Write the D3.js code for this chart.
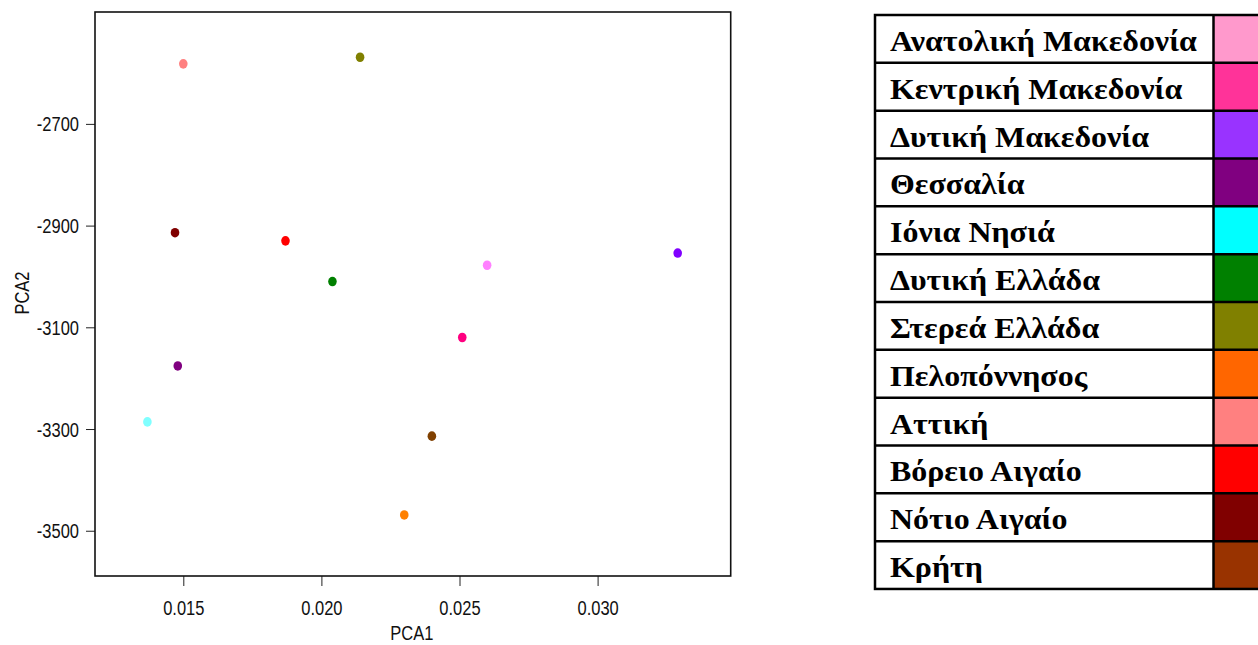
<!DOCTYPE html>
<html><head><meta charset="utf-8">
<script src="https://cdn.jsdelivr.net/npm/d3@7"></script>
<style>html,body{margin:0;padding:0;background:#fff;}svg{display:block;}</style>
</head><body>
<svg id="chart" width="1258" height="645"></svg>
<script>
// ---- data ----
const regions = ["Ανατολική Μακεδονία","Κεντρική Μακεδονία","Δυτική Μακεδονία","Θεσσαλία","Ιόνια Νησιά","Δυτική Ελλάδα","Στερεά Ελλάδα","Πελοπόννησος","Αττική","Βόρειο Αιγαίο","Νότιο Αιγαίο","Κρήτη"];
const pca1 = [0.0260, 0.0251, 0.0329, 0.0148, 0.0137, 0.0204, 0.0214, 0.0230, 0.0150, 0.0187, 0.0147, 0.0240];
const pca2 = [-2978, -3120, -2954, -3176, -3286, -3010, -2569, -3469, -2582, -2930, -2914, -3314];
const pointColors = ["#ff80ff","#ff0080","#8000ff","#800080","#80ffff","#008000","#808000","#ff8000","#ff8080","#ff0000","#800000","#804000"];
const legendColors = ["#ff99cc","#ff3399","#9933ff","#800080","#00ffff","#008000","#808000","#ff6600","#ff8080","#ff0000","#800000","#993300"];
const xTicks = [0.015, 0.020, 0.025, 0.030];
const yTicks = [-2700, -2900, -3100, -3300, -3500];
const xLimits = [0.011803, 0.034819];
const yLimits = [-3589, -2480];

// ---- layout ----
const svg = d3.select("#chart");
const plot = {left: 95, top: 12, right: 730.7, bottom: 576};
const x = d3.scaleLinear().domain(xLimits).range([plot.left, plot.right]);
const y = d3.scaleLinear().domain(yLimits).range([plot.bottom, plot.top]);
const sy = 1.2;
const sans = "Arial, 'Liberation Sans', sans-serif";

svg.append("rect").attr("width",1258).attr("height",645).attr("fill","#fff");

// axes
const xAxis = svg.append("g").attr("transform",`translate(0,${plot.bottom})`)
  .call(d3.axisBottom(x).tickValues(xTicks).tickFormat(d3.format(".3f")).tickSize(10).tickPadding(0));
xAxis.select(".domain").remove();
xAxis.selectAll(".tick line").attr("stroke","#222").attr("stroke-width",1);
xAxis.selectAll(".tick text").attr("font-family",sans).attr("font-size",16.5)
  .attr("fill","#111").attr("y",0).attr("dy",null).attr("transform",`translate(0,39) scale(1,${sy})`);

const yAxis = svg.append("g").attr("transform",`translate(${plot.left},0)`)
  .call(d3.axisLeft(y).tickValues(yTicks).tickFormat(d => String(d)).tickSize(9).tickPadding(0));
yAxis.select(".domain").remove();
yAxis.selectAll(".tick line").attr("stroke","#222").attr("stroke-width",1);
yAxis.selectAll(".tick text").attr("font-family",sans).attr("font-size",16.5)
  .attr("fill","#111").attr("x",0).attr("dy",null).attr("y",0).attr("text-anchor","end")
  .attr("transform",`translate(-16,7) scale(1,${sy})`);

// frame
svg.append("rect").attr("x",plot.left).attr("y",plot.top)
  .attr("width",plot.right-plot.left).attr("height",plot.bottom-plot.top)
  .attr("fill","none").attr("stroke","#111").attr("stroke-width",1.6);

// axis titles
svg.append("text").attr("font-family",sans).attr("font-size",16.5).attr("fill","#111")
  .attr("text-anchor","middle").attr("transform",`translate(${(plot.left+plot.right)/2 - 1},640) scale(1,${sy})`).text("PCA1");
svg.append("text").attr("font-family",sans).attr("font-size",16.5).attr("fill","#111")
  .attr("text-anchor","middle").attr("transform",`translate(29,293) rotate(-90) scale(1,${sy})`).text("PCA2");

// points
svg.append("g").selectAll("ellipse").data(regions).join("ellipse")
  .attr("cx",(d,i)=>x(pca1[i])).attr("cy",(d,i)=>y(pca2[i]))
  .attr("rx",4.3).attr("ry",4.8).attr("fill",(d,i)=>pointColors[i]);

// legend table
const lg = {left: 875, top: 15, divider: 1213.5, right: 1262, rowH: 47.83};
const leg = svg.append("g");
leg.selectAll("rect.sw").data(regions).join("rect").attr("class","sw")
  .attr("x",lg.divider).attr("y",(d,i)=>lg.top+i*lg.rowH)
  .attr("width",lg.right-lg.divider).attr("height",lg.rowH).attr("fill",(d,i)=>legendColors[i]);
leg.selectAll("text").data(regions).join("text")
  .attr("transform",(d,i)=>`translate(890,${lg.top+i*lg.rowH+36}) scale(1.065,1)`)
  .attr("font-family","'Liberation Serif', 'Times New Roman', serif").attr("font-weight","bold")
  .attr("font-size",30).attr("fill","#000").text(d=>d);
leg.selectAll("line.row").data(d3.range(1,regions.length)).join("line").attr("class","row")
  .attr("x1",lg.left).attr("x2",lg.right).attr("y1",d=>lg.top+d*lg.rowH).attr("y2",d=>lg.top+d*lg.rowH)
  .attr("stroke","#000").attr("stroke-width",2.5);
leg.append("line").attr("x1",lg.divider).attr("x2",lg.divider).attr("y1",lg.top).attr("y2",lg.top+regions.length*lg.rowH)
  .attr("stroke","#000").attr("stroke-width",2.5);
leg.append("rect").attr("x",lg.left).attr("y",lg.top).attr("width",lg.right-lg.left).attr("height",regions.length*lg.rowH)
  .attr("fill","none").attr("stroke","#000").attr("stroke-width",2.5);
</script>
</body></html>
